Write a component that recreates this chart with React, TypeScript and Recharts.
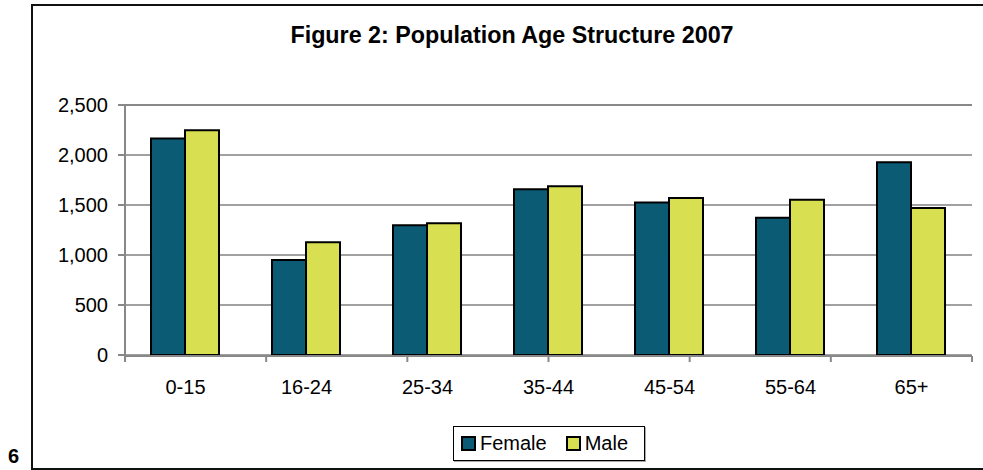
import { BarChart, Bar, XAxis, YAxis, CartesianGrid, ReferenceLine } from "recharts";

const ageGroups = ["0-15", "16-24", "25-34", "35-44", "45-54", "55-64", "65+"];
const female = [2165, 950, 1297, 1657, 1525, 1373, 1927];
const male = [2248, 1127, 1317, 1687, 1570, 1553, 1470];
const yTicks = [0, 500, 1000, 1500, 2000, 2500];
const edgeTicks = [0, 1, 2, 3, 4, 5, 6, 7];

const data = ageGroups.map((age, i) => ({ age, Female: female[i], Male: male[i] }));

const FONT = '"Liberation Sans", Arial, sans-serif';
const FEMALE_COLOR = "#0B5B74";
const MALE_COLOR = "#D8E052";
const BORDER = "#888";

function LegendBox() {
  const item = (label: string, color: string) => (
    <div style={{ display: "flex", alignItems: "center", marginRight: 19 }}>
      <span
        style={{
          display: "inline-block",
          width: 11,
          height: 11,
          background: color,
          border: "2px solid #000",
          marginRight: 4,
        }}
      />
      <span>{label}</span>
    </div>
  );
  return (
    <div
      style={{
        position: "absolute",
        left: 453,
        top: 426,
        width: 183,
        height: 33,
        border: "1px solid #000",
        boxShadow: "1px 1px 0 #aaa",
        display: "flex",
        alignItems: "center",
        paddingLeft: 7,
        boxSizing: "content-box",
        fontSize: 20,
        fontFamily: FONT,
        background: "#fff",
      }}
    >
      {item("Female", FEMALE_COLOR)}
      {item("Male", MALE_COLOR)}
    </div>
  );
}

export default function App() {
  return (
    <div
      style={{
        position: "absolute",
        left: 0,
        top: 0,
        width: 983,
        height: 470,
        overflow: "hidden",
        background: "#fff",
        fontFamily: FONT,
      }}
    >
      {/* outer frame, right side runs off the page */}
      <div
        style={{
          position: "absolute",
          left: 31,
          top: 4,
          width: 1100,
          height: 462,
          borderLeft: "2px solid #111",
          borderTop: "2px solid #111",
          borderBottom: "2px solid #111",
        }}
      />
      <div
        style={{
          position: "absolute",
          left: 8,
          top: 446,
          fontSize: 20,
          lineHeight: "20px",
          fontWeight: "bold",
        }}
      >
        6
      </div>
      <div
        style={{
          position: "absolute",
          left: 212,
          width: 600,
          top: 24,
          textAlign: "center",
          fontSize: 23.3,
          lineHeight: "23px",
          fontWeight: "bold",
        }}
      >
        Figure 2: Population Age Structure 2007
      </div>
      <div style={{ position: "absolute", left: 0, top: 0 }}>
        <BarChart
          width={983}
          height={470}
          data={data}
          margin={{ top: 105, right: 11, left: 0, bottom: 113 }}
          barGap={0}
          barCategoryGap="21.5%"
        >
          <CartesianGrid vertical={false} stroke="#444" strokeWidth={1.2} />
          <XAxis
            dataKey="age"
            height={1}
            axisLine={false}
            tickLine={false}
            tickSize={0}
            tickMargin={25}
            tick={{ fill: "#000", fontSize: 20, fontFamily: FONT }}
          />
          <XAxis
            xAxisId="edge"
            type="number"
            domain={[0, 7]}
            ticks={edgeTicks}
            allowDataOverflow
            height={1}
            axisLine={{ stroke: BORDER, strokeWidth: 2 }}
            tickLine={{ stroke: BORDER, strokeWidth: 2 }}
            tickSize={6}
            tickFormatter={() => ""}
          />
          <YAxis
            width={125}
            domain={[0, 2500]}
            ticks={yTicks}
            allowDataOverflow
            axisLine={{ stroke: BORDER, strokeWidth: 2 }}
            tickLine={{ stroke: BORDER, strokeWidth: 2 }}
            tickSize={7}
            tickMargin={10}
            tickFormatter={(v: number) => v.toLocaleString("en-US")}
            tick={{ fill: "#000", fontSize: 20, fontFamily: FONT }}
          />
          <YAxis
            yAxisId="right"
            orientation="right"
            width={0}
            domain={[0, 2500]}
            axisLine={{ stroke: BORDER, strokeWidth: 2 }}
            tickLine={false}
            tick={false}
          />
          <ReferenceLine y={2500} stroke={BORDER} strokeWidth={2} />
          <Bar
            dataKey="Female"
            fill={FEMALE_COLOR}
            stroke="#000"
            strokeWidth={2}
            isAnimationActive={false}
          />
          <Bar
            dataKey="Male"
            fill={MALE_COLOR}
            stroke="#000"
            strokeWidth={2}
            isAnimationActive={false}
          />
        </BarChart>
      </div>
      <LegendBox />
    </div>
  );
}
